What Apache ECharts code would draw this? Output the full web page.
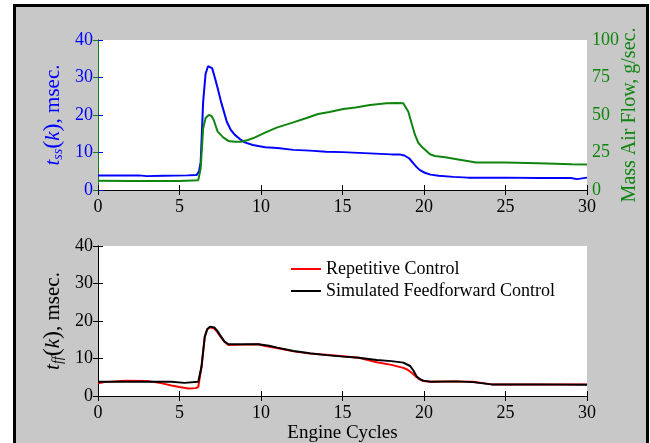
<!DOCTYPE html>
<html>
<head>
<meta charset="UTF-8">
<title>Engine cycles</title>
<script src="https://cdn.jsdelivr.net/npm/echarts@6/dist/echarts.min.js"></script>
<style>
  html, body { margin: 0; padding: 0; background: #fff; }
  #frame { position: absolute; left: 13px; top: 4px; width: 630px; height: 460px;
           border: 3px solid #000; background: #c8c8c8; }
  #main { position: absolute; left: 0; top: 0; width: 650px; height: 443px; }
</style>
</head>
<body>
<div id="frame"></div>
<div id="main"></div>

<script type="text/javascript">
    // top panel: injection time (msec) and mass air flow (g/sec)
    var tssCycles = [0, 2.5, 3.0, 4.0, 5.5, 6.05, 6.2, 6.3, 6.45, 6.6, 6.75, 6.87, 7.0, 7.18, 7.35, 7.55, 7.75, 7.9, 8.15, 8.4, 8.7, 9.0, 9.5, 10.25, 11, 12, 13, 14, 15, 16, 17, 18, 18.5, 18.8, 19.1, 19.35, 19.55, 19.75, 20.05, 20.4, 20.9, 21.8, 22.7, 25, 27, 29.0, 29.1, 29.4, 29.5, 30];
    var tssValues = [3.9, 3.9, 3.7, 3.8, 3.9, 4.0, 5, 7.5, 23.5, 31, 33, 33.5, 32.5, 29.8, 27, 23.5, 20.5, 18.2, 16, 14.7, 13.6, 12.7, 12, 11.4, 11.2, 10.7, 10.5, 10.2, 10.1, 9.9, 9.7, 9.5, 9.5, 9.2, 8.4, 7.1, 6.1, 5.3, 4.6, 4.1, 3.8, 3.5, 3.3, 3.3, 3.2, 3.2, 2.9, 2.9, 3.2, 3.3];

    var mafCycles = [0, 2, 5, 6.15, 6.3, 6.45, 6.6, 6.8, 6.95, 7.1, 7.34, 7.7, 8.0, 8.4, 8.8, 9.2, 9.6, 10.25, 10.96, 11.98, 12.8, 13.5, 14.2, 15.05, 15.8, 16.69, 17.71, 18.3, 18.73, 19.04, 19.25, 19.45, 19.65, 19.86, 20.37, 20.67, 21.3, 22.1, 23.2, 25, 27, 29.06, 30];
    var mafValues = [6.2, 6.0, 6.0, 6.5, 14.4, 41, 48, 50, 49.5, 46.7, 38.9, 34.9, 32.7, 32.2, 32.2, 33.3, 34.9, 38.2, 41.6, 45.1, 48, 50.7, 52, 54, 55, 56.7, 57.8, 58, 57.8, 52.2, 44, 36.7, 31.5, 28.9, 23.8, 22.7, 21.8, 20.4, 18.4, 18.3, 17.8, 17.1, 17];

    // bottom panel: feedforward injection time (msec)
    var repCycles = [0, 0.4, 1.7, 3.0, 3.5, 4.0, 4.5, 5.0, 5.54, 6.0, 6.15, 6.35, 6.55, 6.7, 6.87, 7.13, 7.3, 7.48, 7.75, 8.0, 9.0, 9.84, 10.25, 10.96, 12, 13, 14, 15.05, 16, 17.1, 18, 18.73, 19.0, 19.3, 19.55, 19.75, 19.96, 20.4, 21.9, 23, 24.15, 27, 30];
    var repValues = [3.4, 3.7, 4.1, 4.0, 3.7, 3.3, 2.8, 2.4, 2.0, 2.1, 2.4, 7.8, 15.8, 17.8, 18.3, 18.0, 17.2, 16.0, 14.5, 13.6, 13.7, 13.8, 13.3, 12.8, 11.9, 11.3, 11.0, 10.6, 10.2, 9.0, 8.3, 7.5, 7.0, 6.0, 5.0, 4.4, 4.0, 3.8, 3.9, 3.8, 3.1, 3.1, 3.1];

    var simCycles = [0, 4.5, 5.3, 6.15, 6.35, 6.55, 6.7, 6.87, 7.13, 7.3, 7.48, 7.75, 8.0, 9.0, 9.84, 10.5, 11, 12, 13, 14, 15.05, 16, 17.1, 18, 18.73, 19.15, 19.35, 19.55, 19.75, 19.96, 20.4, 21.9, 23, 24.15, 27, 30];
    var simValues = [3.8, 3.8, 3.5, 3.8, 7.8, 15.8, 17.8, 18.5, 18.3, 17.5, 16.3, 14.6, 13.8, 13.8, 13.8, 13.4, 12.9, 12.0, 11.4, 10.9, 10.5, 10.2, 9.6, 9.3, 8.9, 8.0, 6.8, 5.2, 4.5, 4.1, 3.8, 3.9, 3.7, 3.1, 3.1, 3.0];

    var legendNames = ['Repetitive Control', 'Simulated Feedforward Control'];

    var FONT = 'Liberation Serif';
    var BLUE = '#0000ff', GREEN = '#0f850f';

    function pairs(xs, ys) {
        var out = [];
        for (var i = 0; i < xs.length; i++) out.push([xs[i], ys[i]]);
        return out;
    }

    function xAx(grid, pos, name) {
        return {
            gridIndex: grid, type: 'value', position: pos, min: 0, max: 30, interval: 5,
            axisLine: {lineStyle: {color: '#000', width: 1}},
            axisTick: {show: true, inside: true, length: 5, lineStyle: {color: '#000'}},
            axisLabel: {show: pos === 'bottom', color: '#000', fontFamily: FONT, fontSize: 18, margin: 8},
            splitLine: {show: false},
            name: name || '', nameLocation: 'middle', nameGap: 28,
            nameTextStyle: {color: '#000', fontFamily: FONT, fontSize: 19}
        };
    }

    function yAx(grid, pos, max, step, color, labels, name, rich, gap, size) {
        return {
            gridIndex: grid, type: 'value', position: pos, min: 0, max: max, interval: step,
            axisLine: {show: true, lineStyle: {color: color, width: 1}},
            axisTick: {show: true, inside: true, length: 5, lineStyle: {color: color}},
            axisLabel: {show: labels, color: color, fontFamily: FONT, fontSize: 18, margin: 5},
            splitLine: {show: false},
            name: name || '', nameLocation: 'middle', nameRotate: 90, nameGap: gap || 33,
            nameMoveOverlap: false,
            nameTextStyle: {color: color, fontFamily: FONT, fontSize: size || 21, rich: rich || {}}
        };
    }

    function richFor(color) {
        return {
            i: {fontStyle: 'italic', color: color, fontFamily: FONT, fontSize: 21},
            s: {fontStyle: 'italic', color: color, fontFamily: FONT, fontSize: 14, verticalAlign: 'bottom', padding: [10, 0, 0, 0]},
            p: {color: color, fontFamily: FONT, fontSize: 24},
            n: {color: color, fontFamily: FONT, fontSize: 21}
        };
    }

    var myChart = echarts.init(document.getElementById('main'));

    var option = {
        backgroundColor: 'transparent',
        animation: false,
        grid: [
            {left: 98, top: 40, width: 489, height: 150, show: true, backgroundColor: '#fff', borderWidth: 0, outerBoundsMode: 'none'},
            {left: 98, top: 246, width: 489, height: 150, show: true, backgroundColor: '#fff', borderWidth: 0, outerBoundsMode: 'none'}
        ],
        legend: {
            data: legendNames,
            orient: 'vertical', left: 286, top: 254,
            icon: 'rect', itemWidth: 30, itemHeight: 2, itemGap: 2,
            textStyle: {color: '#000', fontFamily: FONT, fontSize: 18, lineHeight: 20, padding: [0, 0, 0, 0]}
        },
        xAxis: [
            xAx(0, 'bottom'), xAx(0, 'top'),
            xAx(1, 'bottom', 'Engine Cycles'), xAx(1, 'top')
        ],
        yAxis: [
            yAx(0, 'left', 40, 10, BLUE, true, '{i|t}{s|ss}{p|(}{i|k}{p|)}{n|, msec.}', richFor(BLUE), 33),
            yAx(0, 'right', 100, 25, GREEN, true, 'Mass Air Flow, g/sec.', null, 33, 20),
            yAx(1, 'left', 40, 10, '#000', true, '{i|t}{s|ff}{p|(}{i|k}{p|)}{n|, msec.}', richFor('#000'), 33),
            yAx(1, 'right', 40, 10, '#000', false)
        ],
        series: [
            {name: 'tss', type: 'line', xAxisIndex: 0, yAxisIndex: 0, symbol: 'none',
             lineStyle: {color: BLUE, width: 2}, data: pairs(tssCycles, tssValues)},
            {name: 'maf', type: 'line', xAxisIndex: 0, yAxisIndex: 1, symbol: 'none',
             lineStyle: {color: GREEN, width: 2}, data: pairs(mafCycles, mafValues)},
            {name: legendNames[0], type: 'line', xAxisIndex: 2, yAxisIndex: 2, symbol: 'none',
             color: '#ff0000', lineStyle: {color: '#ff0000', width: 2}, data: pairs(repCycles, repValues)},
            {name: legendNames[1], type: 'line', xAxisIndex: 2, yAxisIndex: 2, symbol: 'none',
             color: '#000', lineStyle: {color: '#000', width: 2}, data: pairs(simCycles, simValues)}
        ]
    };

    myChart.setOption(option);
</script>
</body>
</html>
